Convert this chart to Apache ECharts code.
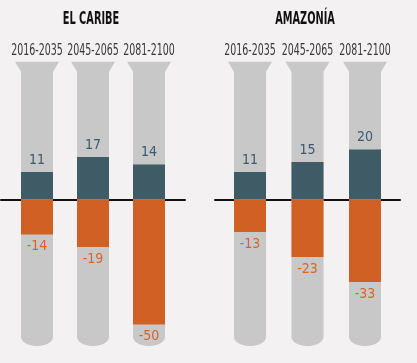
<!DOCTYPE html>
<html>
<head>
<meta charset="utf-8">
<script src="https://cdn.jsdelivr.net/npm/echarts@6/dist/echarts.min.js"></script>
<style>
html,body{margin:0;padding:0;background:#f3f1f2;}
#c{width:417px;height:363px;}
</style>
</head>
<body>
<div id="c"></div>
<script>
// ---- data ----
const periods = ['2016-2035', '2045-2065', '2081-2100'];
const groupTitles = ['EL CARIBE', 'AMAZONÍA'];
const caribePositive = [11, 17, 14];
const caribeNegative = [-14, -19, -50];
const amazoniaPositive = [11, 15, 20];
const amazoniaNegative = [-13, -23, -33];

// ---- decoration (tube) extents, in value units ----
const TUBE_TOP = 55.1, TUBE_NECK = 51.1, TUBE_BASE = -55, TUBE_BOTTOM = -58.6;

const FONT = '"DejaVu Sans Condensed", "Liberation Sans Narrow", "Roboto", sans-serif';
const GRAY = '#c8c8c8', TEAL = '#3e5b66', ORANGE = '#d16024';
const POS_LABEL = '#3b5970', NEG_LABEL = '#d8642c';

const chart = echarts.init(document.getElementById('c'));

function tubeRender(params, api) {
  const i = api.value(0);
  const t = api.coord([i, TUBE_TOP]);
  const n = api.coord([i, TUBE_NECK]);
  const b = api.coord([i, TUBE_BASE]);
  const e = api.coord([i, TUBE_BOTTOM]);
  const cx = t[0], hw = 16, fw = 22;
  const pts = [[cx - fw, t[1]], [cx + fw, t[1]], [cx + hw, n[1]], [cx + hw, b[1]]];
  const ry = e[1] - b[1];
  for (let k = 1; k < 24; k++) {
    const a = Math.PI * k / 24;
    pts.push([cx + hw * Math.cos(a), b[1] + ry * Math.sin(a)]);
  }
  pts.push([cx - hw, b[1]], [cx - hw, n[1]]);
  return {
    type: 'group',
    children: [
      { type: 'polygon', shape: { points: pts }, style: { fill: GRAY } },
      { type: 'text', x: cx, y: t[1] - 11, scaleX: 0.7,
        style: { text: periods[i], fill: '#383838', fontSize: 15, fontFamily: FONT,
                 align: 'center', verticalAlign: 'middle' } }
    ]
  };
}

const grids = [
  { left: 1, width: 184, top: 59.5, bottom: 13.5, min: -0.6429, max: 2.6429 },
  { left: 215, width: 185, top: 59.5, bottom: 13.5, min: -0.6087, max: 2.6087 }
];
const posData = [caribePositive, amazoniaPositive];
const negData = [caribeNegative, amazoniaNegative];
const titleX = [91, 305];

const option = {
  backgroundColor: '#f3f1f2',
  animation: false,
  graphic: groupTitles.map((t, gi) => ({
    type: 'text', x: titleX[gi], y: 19.5, scaleX: 0.64, z: 10,
    style: { text: t, fill: '#111', fontSize: 17, fontWeight: 'bold', fontFamily: FONT,
             align: 'center', verticalAlign: 'middle' }
  })),
  grid: grids.map(g => ({ left: g.left, width: g.width, top: g.top, bottom: g.bottom })),
  xAxis: [],
  yAxis: [],
  series: []
};

grids.forEach((g, gi) => {
  option.xAxis.push({
    type: 'value', gridIndex: gi, min: g.min, max: g.max, position: 'bottom',
    axisLine: { onZero: true, lineStyle: { color: '#111', width: 2 } },
    axisTick: { show: false }, axisLabel: { show: false }, splitLine: { show: false }
  });
  option.yAxis.push({
    type: 'value', gridIndex: gi, min: -60, max: 56, show: false
  });
  const xi = gi, yi = gi;
  option.series.push({
    type: 'custom', xAxisIndex: xi, yAxisIndex: yi, z: 1,
    renderItem: tubeRender, data: periods.map((p, i) => [i]), silent: true, clip: false
  });
  option.series.push({
    type: 'bar', xAxisIndex: xi, yAxisIndex: yi, z: 2, barWidth: 32, barGap: '-100%',
    data: posData[gi].map((v, i) => [i, v]),
    itemStyle: { color: TEAL },
    label: { show: true, position: 'top', distance: 5, fontFamily: FONT, fontSize: 14, color: POS_LABEL,
      formatter: p => p.value[1] }
  });
  option.series.push({
    type: 'bar', xAxisIndex: xi, yAxisIndex: yi, z: 2, barWidth: 32, barGap: '-100%',
    data: negData[gi].map((v, i) => [i, v]),
    itemStyle: { color: ORANGE },
    label: { show: true, position: 'bottom', distance: 5, fontFamily: FONT, fontSize: 14, color: NEG_LABEL,
      formatter: p => p.value[1] }
  });
});

chart.setOption(option);
</script>
</body>
</html>
